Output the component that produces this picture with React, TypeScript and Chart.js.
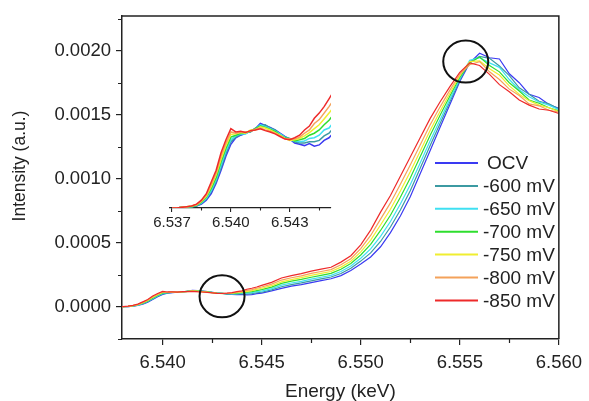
import React, { useEffect, useRef } from 'react';
import { Chart, registerables } from 'chart.js';

Chart.register(...registerables);

// Photon energy (keV)
const energy = [
  6.537, 6.53725, 6.5375, 6.53775, 6.538, 6.53825, 6.5385, 6.53875, 6.539, 6.53925, 6.5395, 6.53975,
  6.54, 6.54025, 6.5405, 6.54075, 6.541, 6.54125, 6.5415, 6.54175, 6.542, 6.54225, 6.5425, 6.54275,
  6.543, 6.54325, 6.5435, 6.54375, 6.544, 6.54425, 6.5445, 6.54475, 6.545,
  6.5455, 6.546, 6.5465, 6.547, 6.5475, 6.548, 6.5485, 6.549, 6.5495, 6.55,
  6.5505, 6.551, 6.5515, 6.552, 6.5525, 6.553, 6.5535, 6.554, 6.5545, 6.555,
  6.5555, 6.556, 6.5565, 6.557, 6.5575, 6.558, 6.5585, 6.559, 6.5595, 6.56,
];

// Intensities in units of 1e-4 (a.u.)
const ocv = [
  0, 0, 0.01, 0.01, 0.02, 0.03, 0.06, 0.12, 0.22, 0.38, 0.58, 0.8, 0.98, 1.08, 1.12, 1.15, 1.18, 1.22, 1.3, 1.27,
  1.24, 1.2, 1.15, 1.1, 1.06, 1.0, 0.98, 0.96, 0.99, 0.95, 0.97, 1.04, 1.08,
  1.25, 1.45, 1.62, 1.75, 1.9, 2.05, 2.2, 2.45, 2.85, 3.35, 3.9, 4.7, 5.8, 7.1, 8.6, 10.4, 12.2, 14.0, 15.8, 17.6,
  19.05, 19.8, 19.45, 19.35, 18.2, 17.5, 16.6, 16.35, 15.8, 15.5,
];
const mv600 = [
  0, 0, 0.01, 0.01, 0.02, 0.03, 0.07, 0.14, 0.25, 0.41, 0.62, 0.84, 1.02, 1.09, 1.13, 1.16, 1.17, 1.23, 1.27, 1.28,
  1.23, 1.2, 1.14, 1.09, 1.07, 1.02, 1.0, 1.0, 1.02, 1.02, 1.04, 1.11, 1.15,
  1.33, 1.58, 1.74, 1.88, 2.04, 2.19, 2.34, 2.61, 3.02, 3.58, 4.22, 5.11, 6.24, 7.57, 9.07, 10.82, 12.58, 14.3, 16.01, 17.7,
  19.15, 19.55, 19.4, 18.8, 18.05, 17.1, 16.6, 16.05, 15.85, 15.45,
];
const mv650 = [
  0, 0, 0.01, 0.01, 0.02, 0.04, 0.08, 0.15, 0.27, 0.44, 0.66, 0.88, 1.05, 1.11, 1.14, 1.14, 1.19, 1.21, 1.28, 1.25,
  1.22, 1.18, 1.14, 1.09, 1.05, 1.03, 1.02, 1.03, 1.07, 1.08, 1.12, 1.2, 1.23,
  1.43, 1.7, 1.87, 2.0, 2.17, 2.32, 2.47, 2.77, 3.2, 3.8, 4.53, 5.51, 6.67, 8.03, 9.53, 11.24, 12.95, 14.6, 16.22, 17.81,
  19.25, 19.45, 19.05, 18.7, 17.75, 16.95, 16.4, 16.0, 15.75, 15.4,
];
const mv700 = [
  0, 0, 0.01, 0.02, 0.02, 0.04, 0.09, 0.17, 0.3, 0.47, 0.71, 0.92, 1.09, 1.12, 1.15, 1.16, 1.18, 1.22, 1.26, 1.24,
  1.21, 1.18, 1.12, 1.08, 1.06, 1.03, 1.05, 1.07, 1.12, 1.15, 1.2, 1.28, 1.35,
  1.55, 1.84, 2.01, 2.15, 2.32, 2.47, 2.62, 2.94, 3.39, 4.06, 4.89, 5.97, 7.16, 8.56, 10.06, 11.72, 13.38, 14.94, 16.46, 17.93,
  19.05, 19.5, 18.85, 18.35, 17.5, 16.85, 16.15, 15.9, 15.55, 15.3,
];
const mv750 = [
  0, 0, 0.01, 0.02, 0.03, 0.05, 0.1, 0.18, 0.33, 0.51, 0.75, 0.96, 1.13, 1.14, 1.16, 1.15, 1.2, 1.2, 1.25, 1.23,
  1.2, 1.16, 1.12, 1.07, 1.04, 1.05, 1.07, 1.11, 1.16, 1.22, 1.28, 1.37, 1.46,
  1.66, 1.96, 2.14, 2.29, 2.47, 2.62, 2.77, 3.11, 3.57, 4.3, 5.22, 6.4, 7.63, 9.05, 10.55, 12.16, 13.78, 15.26, 16.68, 18.04,
  19.15, 19.2, 18.6, 18.1, 17.25, 16.6, 16.1, 15.75, 15.55, 15.25,
];
const mv800 = [
  0, 0, 0.01, 0.02, 0.03, 0.05, 0.11, 0.2, 0.36, 0.54, 0.8, 1.0, 1.17, 1.15, 1.17, 1.17, 1.18, 1.21, 1.23, 1.2,
  1.18, 1.15, 1.11, 1.07, 1.06, 1.06, 1.09, 1.15, 1.2, 1.3, 1.36, 1.46, 1.56,
  1.78, 2.1, 2.28, 2.43, 2.62, 2.77, 2.92, 3.29, 3.77, 4.55, 5.58, 6.86, 8.12, 9.58, 11.08, 12.64, 14.2, 15.6, 16.92, 18.16,
  18.9, 19.15, 18.35, 17.75, 17.0, 16.5, 15.85, 15.7, 15.35, 15.2,
];
const mv850 = [
  0, 0, 0.01, 0.02, 0.03, 0.06, 0.12, 0.22, 0.4, 0.58, 0.85, 1.05, 1.22, 1.17, 1.18, 1.16, 1.19, 1.2, 1.22, 1.19,
  1.17, 1.14, 1.1, 1.06, 1.05, 1.08, 1.12, 1.2, 1.26, 1.38, 1.46, 1.56, 1.68,
  1.92, 2.26, 2.45, 2.6, 2.8, 2.95, 3.1, 3.5, 4.0, 4.85, 6.0, 7.4, 8.7, 10.2, 11.7, 13.2, 14.7, 16.0, 17.2, 18.3,
  19.05, 18.85, 18.15, 17.35, 16.8, 16.15, 15.75, 15.45, 15.35, 15.1,
];

const seriesValues = [ocv, mv600, mv650, mv700, mv750, mv800, mv850];
const seriesLabels = ['OCV', '-600 mV', '-650 mV', '-700 mV', '-750 mV', '-800 mV', '-850 mV'];
const seriesColors = ['#3a3af2', '#3c9aa2', '#3fe0f2', '#2ede2e', '#f0ee30', '#f4a25a', '#ee2a2a'];
const UNIT = 1e-4;

const xMajorTicks = [6.54, 6.545, 6.55, 6.555, 6.56];
const xMinorTicks = [6.5425, 6.5475, 6.5525, 6.5575];
const yMajorTicks = [0, 0.0005, 0.001, 0.0015, 0.002];
const yMinorTicks = [-0.00025, 0.00025, 0.00075, 0.00125, 0.00175, 0.00225];
const insetMajorTicks = [6.537, 6.54, 6.543];
const insetMinorTicks = [6.5385, 6.5415, 6.5445];
// marked regions (energy keV, intensity)
const circleX = [6.5553, 6.543];
const circleY = [0.001915, 0.000083];

const FONT = "'Liberation Sans', Arial, Helvetica, sans-serif";
const AXIS = '#222222';

function buildDatasets(width: number) {
  return seriesValues.map((vals, i) => ({
    label: seriesLabels[i],
    data: energy.map((e, j) => ({ x: e, y: vals[j] * UNIT })),
    borderColor: seriesColors[i],
    backgroundColor: seriesColors[i],
    borderWidth: width,
    pointRadius: 0,
    tension: 0,
    fill: false,
    order: seriesValues.length - i,
  }));
}

const mainDecor = {
  id: 'mainDecor',
  afterDatasetsDraw(chart: any) {
    const { ctx, chartArea: a, scales } = chart;
    const x = scales.x;
    const y = scales.y;
    ctx.save();
    // top and right frame
    ctx.strokeStyle = AXIS;
    ctx.lineWidth = 1.5;
    ctx.beginPath();
    ctx.moveTo(a.left, a.top);
    ctx.lineTo(a.right, a.top);
    ctx.lineTo(a.right, a.bottom);
    ctx.stroke();
    // minor ticks
    ctx.lineWidth = 1.2;
    ctx.beginPath();
    xMinorTicks.forEach((v) => {
      const px = Math.round(x.getPixelForValue(v)) + 0.5;
      ctx.moveTo(px, a.bottom);
      ctx.lineTo(px, a.bottom + 4);
    });
    yMinorTicks.forEach((v) => {
      const py = Math.round(y.getPixelForValue(v)) + 0.5;
      ctx.moveTo(a.left, py);
      ctx.lineTo(a.left - 4, py);
    });
    ctx.stroke();
    // circles
    ctx.strokeStyle = '#111';
    ctx.lineWidth = 2;
    circleX.forEach((cx, i) => {
      ctx.beginPath();
      ctx.ellipse(x.getPixelForValue(cx), y.getPixelForValue(circleY[i]), 22.5, 21, 0, 0, Math.PI * 2);
      ctx.stroke();
    });
    // legend
    ctx.font = `19px ${FONT}`;
    ctx.textAlign = 'left';
    ctx.textBaseline = 'middle';
    seriesLabels.forEach((lab, i) => {
      const ry = 163 + i * 22.9;
      ctx.strokeStyle = seriesColors[i];
      ctx.lineWidth = 2;
      ctx.beginPath();
      ctx.moveTo(435, ry);
      ctx.lineTo(478, ry);
      ctx.stroke();
      ctx.fillStyle = AXIS;
      ctx.fillText(lab, i === 0 ? 487 : 483, ry + 1);
    });
    // axis titles
    ctx.fillStyle = AXIS;
    ctx.font = `19px ${FONT}`;
    ctx.textAlign = 'center';
    ctx.textBaseline = 'middle';
    ctx.fillText('Energy (keV)', (a.left + a.right) / 2, 392);
    ctx.save();
    ctx.translate(20, 166);
    ctx.rotate(-Math.PI / 2);
    ctx.font = `17.5px ${FONT}`;
    ctx.fillText('Intensity (a.u.)', 0, 0);
    ctx.restore();
    ctx.restore();
  },
};

const insetDecor = {
  id: 'insetDecor',
  afterDatasetsDraw(chart: any) {
    const { ctx, chartArea: a, scales } = chart;
    const x = scales.x;
    ctx.save();
    ctx.strokeStyle = AXIS;
    ctx.lineWidth = 1.1;
    ctx.beginPath();
    insetMinorTicks.forEach((v) => {
      const px = Math.round(x.getPixelForValue(v)) + 0.5;
      ctx.moveTo(px, a.bottom);
      ctx.lineTo(px, a.bottom + 2.5);
    });
    ctx.stroke();
    ctx.restore();
  },
};

export default function App() {
  const mainRef = useRef<HTMLCanvasElement | null>(null);
  const insetRef = useRef<HTMLCanvasElement | null>(null);

  useEffect(() => {
    const main = new Chart(mainRef.current as HTMLCanvasElement, {
      type: 'line',
      data: { datasets: buildDatasets(1.2) as any },
      options: {
        animation: false,
        responsive: false,
        devicePixelRatio: 1,
        layout: { padding: { top: 13, right: 26, left: 0, bottom: 0 } },
        plugins: { legend: { display: false }, tooltip: { enabled: false } },
        scales: {
          x: {
            type: 'linear',
            min: 6.53795,
            max: 6.56,
            afterBuildTicks: (s: any) => {
              s.ticks = xMajorTicks.map((v) => ({ value: v }));
            },
            afterFit: (s: any) => {
              s.height = 62;
            },
            ticks: {
              autoSkip: false,
              maxRotation: 0,
              padding: 7,
              color: AXIS,
              font: { family: FONT, size: 18.5 },
              callback: (v: any) => Number(v).toFixed(3),
            },
            grid: { drawOnChartArea: false, drawTicks: true, tickLength: 6, color: AXIS, lineWidth: 1.2 },
            border: { display: true, color: AXIS, width: 1.5 },
          },
          y: {
            type: 'linear',
            min: -0.00025,
            max: 0.00227,
            afterBuildTicks: (s: any) => {
              s.ticks = yMajorTicks.map((v) => ({ value: v }));
            },
            afterFit: (s: any) => {
              s.width = 122;
            },
            ticks: {
              autoSkip: false,
              padding: 5,
              color: AXIS,
              font: { family: FONT, size: 18.5 },
              callback: (v: any) => Number(v).toFixed(4),
            },
            grid: { drawOnChartArea: false, drawTicks: true, tickLength: 6, color: AXIS, lineWidth: 1.2 },
            border: { display: true, color: AXIS, width: 1.5 },
          },
        },
      } as any,
      plugins: [mainDecor],
    });

    const inset = new Chart(insetRef.current as HTMLCanvasElement, {
      type: 'line',
      data: { datasets: buildDatasets(1.5) as any },
      options: {
        animation: false,
        responsive: false,
        devicePixelRatio: 1,
        layout: { padding: { top: 10, right: 19, left: 20, bottom: 0 } },
        plugins: { legend: { display: false }, tooltip: { enabled: false } },
        scales: {
          x: {
            type: 'linear',
            min: 6.5369,
            max: 6.5451,
            afterBuildTicks: (s: any) => {
              s.ticks = insetMajorTicks.map((v) => ({ value: v }));
            },
            afterFit: (s: any) => {
              s.height = 32;
            },
            ticks: {
              autoSkip: false,
              maxRotation: 0,
              padding: 2,
              color: AXIS,
              font: { family: FONT, size: 15 },
              callback: (v: any) => Number(v).toFixed(3),
            },
            grid: { drawOnChartArea: false, drawTicks: true, tickLength: 4, color: AXIS, lineWidth: 1.1 },
            border: { display: true, color: AXIS, width: 1.2 },
          },
          y: {
            type: 'linear',
            display: false,
            min: 0,
            max: 0.0001815,
          },
        },
      } as any,
      plugins: [insetDecor],
    });

    return () => {
      main.destroy();
      inset.destroy();
    };
  }, []);

  return (
    <div style={{ position: 'fixed', left: 0, top: 0, width: 589, height: 401, background: '#fff' }}>
      <canvas ref={mainRef} width={589} height={401} style={{ position: 'absolute', left: 0, top: 0 }} />
      <canvas ref={insetRef} width={200} height={160} style={{ position: 'absolute', left: 150, top: 80 }} />
    </div>
  );
}
